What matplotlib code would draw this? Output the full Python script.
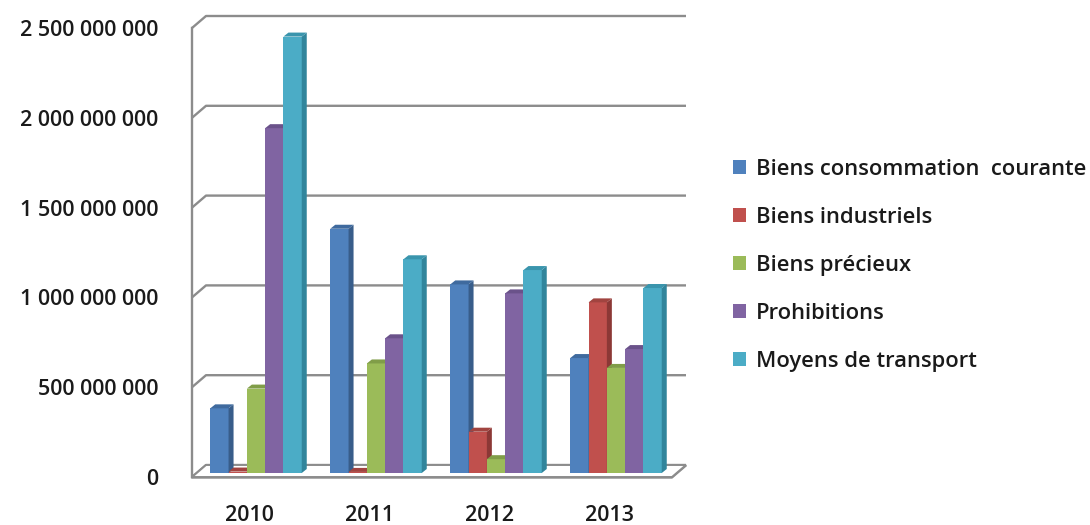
import matplotlib
matplotlib.use("Agg")
import matplotlib.pyplot as plt
from matplotlib.patches import Polygon, Patch
import numpy as np

years = ["2010", "2011", "2012", "2013"]
series = ["Biens consommation  courante", "Biens industriels", "Biens précieux",
          "Prohibitions", "Moyens de transport"]
conso = [0.36e9, 1.36e9, 1.05e9, 0.64e9]
indus = [0.008e9, 0.006e9, 0.23e9, 0.95e9]
precieux = [0.47e9, 0.61e9, 0.077e9, 0.585e9]
prohib = [1.92e9, 0.75e9, 1.00e9, 0.69e9]
transport = [2.43e9, 1.19e9, 1.13e9, 1.03e9]
yticks = [0, 500000000, 1000000000, 1500000000, 2000000000, 2500000000]

values = [conso, indus, precieux, prohib, transport]
front = ["#4F81BD", "#C0504D", "#9BBB59", "#8064A2", "#4BACC6"]
side = ["#385D8A", "#8C3836", "#71893F", "#5C4776", "#31859C"]
top = ["#3F6A9E", "#A14440", "#809D48", "#6A528A", "#3A95AD"]

plt.rcParams['font.family'] = ['Open Sans', 'DejaVu Sans']
plt.rcParams['font.weight'] = 'semibold'
W, H = 1090, 525
fig = plt.figure(figsize=(W / 100, H / 100), dpi=100)
ax = fig.add_axes([192 / W, (H - 477) / H, 480 / W, 449 / H])
ymax = 2.5e9
ax.set_xlim(-0.5, 3.5)
ax.set_ylim(0, ymax)
for s in ax.spines.values():
    s.set_visible(False)

px_x = 1 / 120.0            # data units per pixel (x)
px_y = ymax / 449.0         # data units per pixel (y)
DX, DY = 14 * px_x, 12 * px_y
grid_c = "#8c8c8c"

# back wall gridlines + left wall edge
for v in yticks:
    ax.plot([-0.5, -0.5 + DX, 3.5 + DX], [v, v + DY, v + DY], color=grid_c,
            lw=1.7, clip_on=False, zorder=1, solid_capstyle='butt')
ax.plot([-0.5, -0.5], [0, ymax], color=grid_c, lw=1.7, clip_on=False, zorder=1)

# floor slab
floor = Polygon([(-0.5, 0), (3.5, 0), (3.5 + DX, DY), (-0.5 + DX, DY)],
                closed=True, facecolor="white", edgecolor=grid_c, lw=1.4,
                clip_on=False, zorder=2)
ax.add_patch(floor)
ax.plot([-0.5, 3.5, 3.5 + DX], [-1 * px_y, -1 * px_y, DY - px_y], color=grid_c,
        lw=1.0, clip_on=False, zorder=2)

# bars with fake depth
bw = 18.3 * px_x
ddx, ddy = 5 * px_x, 4 * px_y
base = 4 * px_y
x = np.arange(len(years))
for j, vals in enumerate(values):
    pos = x + (j - 2) * bw + 4 * px_x
    bars = ax.bar(pos, vals, width=bw, bottom=base, color=front[j], label=series[j],
                  clip_on=False)
    for i, b in enumerate(bars):
        z = 10 + i * 20 + j * 3
        b.set_zorder(z)
        x0, x1 = b.get_x(), b.get_x() + b.get_width()
        y0, y1 = b.get_y(), b.get_y() + b.get_height()
        ax.add_patch(Polygon([(x1, y0), (x1 + ddx, y0 + ddy), (x1 + ddx, y1 + ddy), (x1, y1)],
                             closed=True, facecolor=side[j], edgecolor="none",
                             clip_on=False, zorder=z + 1))
        ax.add_patch(Polygon([(x0, y1), (x1, y1), (x1 + ddx, y1 + ddy), (x0 + ddx, y1 + ddy)],
                             closed=True, facecolor=top[j], edgecolor="none",
                             clip_on=False, zorder=z + 2))

ax.set_yticks(yticks)
ax.set_yticklabels([f"{v:,}".replace(",", " ") for v in yticks])
ax.set_xticks(x - 0.02)
ax.set_xticklabels(years)
ax.tick_params(axis='y', length=0, pad=24, labelsize=15.5, labelcolor="#1a1a1a")
ax.tick_params(axis='x', length=0, pad=20, labelsize=15.5, labelcolor="#1a1a1a")

handles = [Patch(facecolor=c, edgecolor="none") for c in front]
fig.legend(handles, series, loc="upper left", bbox_to_anchor=(733 / W, 1 - 159 / H),
           frameon=False, fontsize=15.8, handlelength=0.6, handleheight=0.6,
           handletextpad=0.45, labelspacing=1.23, borderaxespad=0, borderpad=0,
           labelcolor="#1a1a1a")

fig.savefig("out.png", dpi=100)
